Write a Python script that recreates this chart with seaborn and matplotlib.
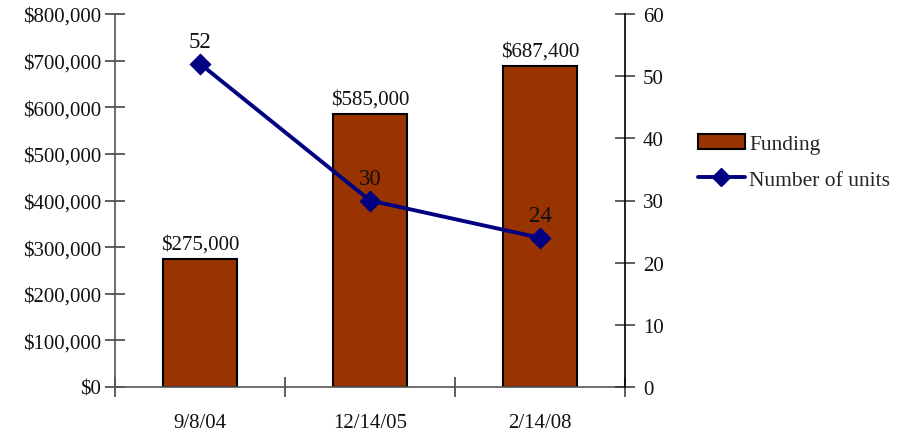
import matplotlib
matplotlib.use("Agg")
import matplotlib.pyplot as plt
import seaborn as sns
import pandas as pd
from matplotlib.ticker import FuncFormatter, FixedLocator
from matplotlib.patches import Patch
from matplotlib.lines import Line2D

dates = ["9/8/04", "12/14/05", "2/14/08"]
funding = [275000, 585000, 687400]
units = [52, 30, 24]
funding_labels = ["$275,000", "$585,000", "$687,400"]

sns.set_theme(style="white")
plt.rcParams['font.family'] = ['Liberation Serif', 'DejaVu Serif']

df = pd.DataFrame({"date": dates, "funding": funding, "units": units})

fig = plt.figure(figsize=(9.05, 4.35), dpi=100)
ax = fig.add_axes([115/905, 1-388/435, (625-115)/905, (388-15)/435])

bar_color = "#993300"
line_color = "#000080"
fs = 15

sns.barplot(data=df, x="date", y="funding", ax=ax, color=bar_color,
            edgecolor="black", linewidth=1.5, width=0.44, saturation=1)
ax.set_ylim(0, 800000)
ax.set_xlim(-0.5, 2.5)
ax.set_yticks(range(0, 800001, 100000))
ax.yaxis.set_major_formatter(FuncFormatter(lambda v, p: "${:,.0f}".format(v)))
ax.set_xlabel("")
ax.set_ylabel("")

for i, (v, lab) in enumerate(zip(funding, funding_labels)):
    ax.text(i, v + 12000, lab, ha="center", va="bottom", fontsize=fs, color="#111111")

ax2 = ax.twinx()
sns.pointplot(data=df, x="date", y="units", ax=ax2, color=line_color,
              markers="D", markersize=9, linewidth=2.8)
ax2.set_ylim(0, 60)
ax2.set_xlim(-0.5, 2.5)
ax2.set_yticks(range(0, 61, 10))
ax2.set_ylabel("")
ax2.set_xlabel("")
for i, v in enumerate(units):
    ax2.text(i, v + 1.9, str(v), ha="center", va="bottom", fontsize=16.5, color="#111111")

for a in (ax, ax2):
    for s in a.spines.values():
        s.set_visible(False)
ax.spines["left"].set_visible(True)
ax.spines["left"].set_color("#555555")
ax.spines["bottom"].set_visible(True)
ax.spines["bottom"].set_color("#555555")
ax2.spines["right"].set_visible(True)
ax2.spines["right"].set_color("black")
for s in ("left", "bottom", "right"):
    ax.spines[s].set_linewidth(1.2)
    ax2.spines[s].set_linewidth(1.2)

ax.tick_params(axis="y", direction="inout", length=14, width=1.1, color="#333333",
               labelsize=fs, pad=3, left=True, labelcolor="#111111")
ax2.tick_params(axis="y", direction="inout", length=14, width=1.1, color="#333333",
                labelsize=fs, pad=6, right=True, labelcolor="#111111")
ax.tick_params(axis="x", which="major", length=0, pad=19, labelsize=fs, labelcolor="#111111")
ax.xaxis.set_minor_locator(FixedLocator([-0.5, 0.5, 1.5, 2.5]))
ax.tick_params(axis="x", which="minor", direction="inout", length=14, width=1.1,
               color="#333333", bottom=True)
ax2.tick_params(axis="x", which="both", bottom=False, top=False)

handles = [Patch(facecolor=bar_color, edgecolor="black", linewidth=1.5),
           Line2D([0], [0], color=line_color, lw=2.8, marker="D", markersize=9)]
fig.legend(handles, ["Funding", "Number of units"], loc="upper left",
           bbox_to_anchor=(689/905, 1-126/435), frameon=False, fontsize=15.5,
           handlelength=2.2, handletextpad=0.2, labelspacing=0.75, borderaxespad=0)

fig.savefig("out.png", dpi=100)
